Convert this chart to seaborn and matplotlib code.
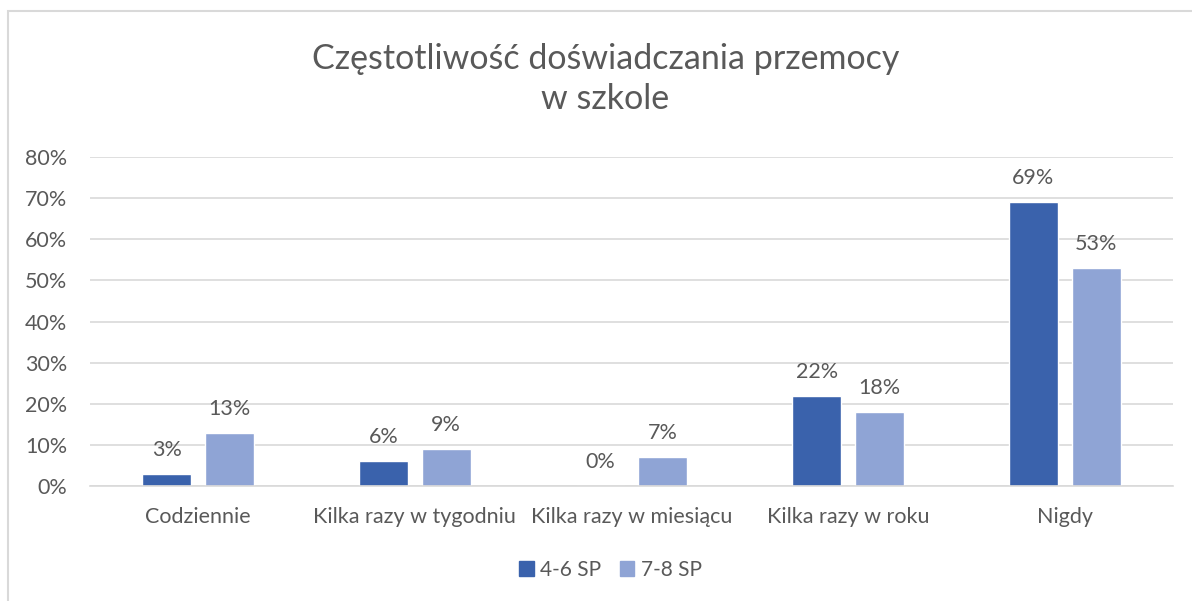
"""Frequency of experiencing violence at school, grouped bars by class group."""

import matplotlib.pyplot as plt
import pandas as pd
import seaborn as sns
from matplotlib.patches import Rectangle

CATEGORIES = [
    "Codziennie",
    "Kilka razy w tygodniu",
    "Kilka razy w miesiącu",
    "Kilka razy w roku",
    "Nigdy",
]
GROUP_46 = [0.03, 0.06, 0.00, 0.22, 0.69]
GROUP_78 = [0.13, 0.09, 0.07, 0.18, 0.53]
SERIES = ["4-6 SP", "7-8 SP"]
Y_TICKS = [0.0, 0.1, 0.2, 0.3, 0.4, 0.5, 0.6, 0.7, 0.8]

PALETTE = {"4-6 SP": "#3A62AC", "7-8 SP": "#8FA4D5"}
TEXT = "#595959"
GRID = "#D9D9D9"
TITLE = "Częstotliwość doświadczania przemocy\nw szkole"
FS = 15.5


def build_dataset():
    rows = []
    for series, values in zip(SERIES, [GROUP_46, GROUP_78]):
        for cat, val in zip(CATEGORIES, values):
            rows.append({"Kategoria": cat, "Udział": val, "Grupa": series})
    return pd.DataFrame(rows)


def main():
    sns.set_theme(style="white")
    plt.rcParams["font.family"] = ["Lato", "DejaVu Sans"]

    df = build_dataset()
    fig = plt.figure(figsize=(11.92, 6.01), dpi=100)
    ax = fig.add_axes([0.0755, 0.1913, 0.9085, 0.5475])

    sns.barplot(
        data=df,
        x="Kategoria",
        y="Udział",
        hue="Grupa",
        palette=PALETTE,
        saturation=1,
        width=0.58,
        gap=0.22,
        legend=False,
        ax=ax,
    )

    for container in ax.containers:
        ax.bar_label(
            container,
            labels=[f"{v:.0%}" for v in container.datavalues],
            padding=10,
            fontsize=FS,
            color=TEXT,
        )

    ax.set_ylim(0, 0.8)
    ax.set_yticks(Y_TICKS)
    ax.set_yticklabels([f"{t:.0%}" for t in Y_TICKS])
    ax.set_xlim(-0.5, len(CATEGORIES) - 0.5)
    ax.yaxis.grid(True, color=GRID, linewidth=1.2)
    ax.set_axisbelow(True)
    for side in ["left", "right", "top"]:
        ax.spines[side].set_visible(False)
    ax.spines["bottom"].set_color(GRID)
    ax.spines["bottom"].set_linewidth(1.2)
    ax.tick_params(axis="both", labelsize=FS, labelcolor=TEXT, length=0)
    ax.tick_params(axis="y", pad=16.5)
    ax.tick_params(axis="x", pad=15)
    ax.set_xlabel("")
    ax.set_ylabel("")

    fig.text(0.508, 0.868, TITLE, ha="center", va="center",
             fontsize=24.5, color=TEXT, linespacing=1.3)

    handles = [Rectangle((0, 0), 1, 1, color=PALETTE[s]) for s in SERIES]
    fig.legend(
        handles, SERIES,
        loc="center", bbox_to_anchor=(0.512, 1 - 570 / 601),
        ncol=2, frameon=False, fontsize=15, labelcolor=TEXT,
        handlelength=0.7, handleheight=0.7, handletextpad=0.3,
        columnspacing=0.9,
    )

    fig.add_artist(Rectangle(
        (8 / 1192, -0.1), 2, 1 - 11 / 601 + 0.1,
        transform=fig.transFigure, fill=False,
        edgecolor=GRID, linewidth=1.5,
    ))

    fig.savefig("out.png", dpi=100)


if __name__ == "__main__":
    main()
